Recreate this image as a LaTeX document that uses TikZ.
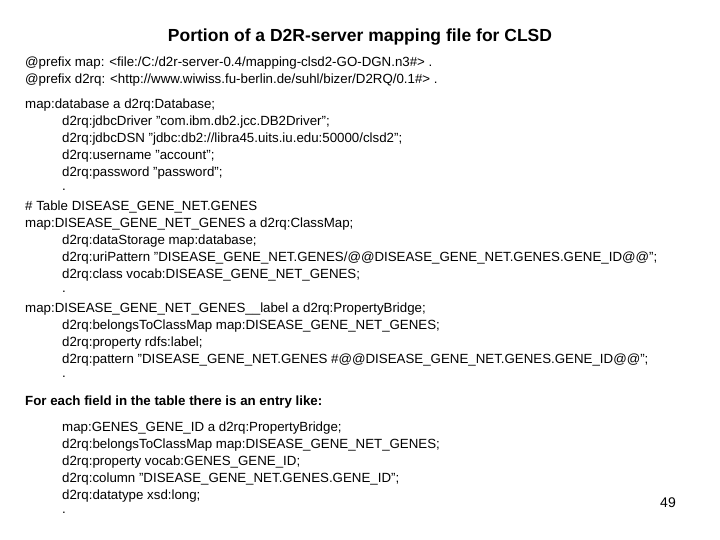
\documentclass[tikz,border=0pt]{standalone}
\usepackage{fontspec}
\setmainfont{Liberation Sans}
\usetikzlibrary{positioning}
\newcommand{\qt}{\char34 }
\tikzset{
  ln/.style={anchor=west,inner sep=0pt,font=\fontsize{13.3}{15}\selectfont},
  hd/.style={inner sep=0pt,font=\fontsize{17.5}{19}\selectfont\bfseries}
}
\begin{document}
\begin{tikzpicture}[x=1pt,y=-1pt]
\useasboundingbox (0,0) rectangle (720,540);
\node[hd] (title) at (360,37) {Portion of a D2R-server mapping file for CLSD};
%prefixes
\node[ln] (p1) at (25,63) {@prefix map: <file:/C:/d2r-server-0.4/mapping-clsd2-GO-DGN.n3\#> .};
\node[ln] (p2) at (25,80) {@prefix d2rq: <http://www.wiwiss.fu-berlin.de/suhl/bizer/D2RQ/0.1\#> .};
%database
\node[ln] (db) at (25,105) {map:database a d2rq:Database;};
\node[ln] (db1) at (62,122) {d2rq:jdbcDriver \qt com.ibm.db2.jcc.DB2Driver\qt;};
\node[ln] (db2) at (62,139) {d2rq:jdbcDSN \qt jdbc:db2://libra45.uits.iu.edu:50000/clsd2\qt;};
\node[ln] (db3) at (62,156) {d2rq:username \qt account\qt;};
\node[ln] (db4) at (62,173) {d2rq:password \qt password\qt;};
\node[ln] (db5) at (62,190) {.};
%class map
\node[ln] (tb) at (25,207) {\# Table DISEASE\_GENE\_NET.GENES};
\node[ln] (cm) at (25,224) {map:DISEASE\_GENE\_NET\_GENES a d2rq:ClassMap;};
\node[ln] (cm1) at (62,241) {d2rq:dataStorage map:database;};
\node[ln] (cm2) at (62,258) {d2rq:uriPattern \qt DISEASE\_GENE\_NET.GENES/@@DISEASE\_GENE\_NET.GENES.GENE\_ID@@\qt;};
\node[ln] (cm3) at (62,275) {d2rq:class vocab:DISEASE\_GENE\_NET\_GENES;};
\node[ln] (cm4) at (62,292) {.};
%label bridge
\node[ln] (lb) at (25,309) {map:DISEASE\_GENE\_NET\_GENES\_\_label a d2rq:PropertyBridge;};
\node[ln] (lb1) at (62,326) {d2rq:belongsToClassMap map:DISEASE\_GENE\_NET\_GENES;};
\node[ln] (lb2) at (62,343) {d2rq:property rdfs:label;};
\node[ln] (lb3) at (62,360) {d2rq:pattern \qt DISEASE\_GENE\_NET.GENES \#@@DISEASE\_GENE\_NET.GENES.GENE\_ID@@\qt;};
\node[ln] (lb4) at (62,377) {.};
%field entry
\node[hd,anchor=west,font=\fontsize{13.3}{15}\selectfont\bfseries] (fe) at (25,402) {For each field in the table there is an entry like:};
\node[ln] (fe1) at (62,428) {map:GENES\_GENE\_ID a d2rq:PropertyBridge;};
\node[ln] (fe2) at (62,445) {d2rq:belongsToClassMap map:DISEASE\_GENE\_NET\_GENES;};
\node[ln] (fe3) at (62,462) {d2rq:property vocab:GENES\_GENE\_ID;};
\node[ln] (fe4) at (62,479) {d2rq:column \qt DISEASE\_GENE\_NET.GENES.GENE\_ID\qt;};
\node[ln] (fe5) at (62,496) {d2rq:datatype xsd:long;};
\node[ln] (fe6) at (62,513) {.};
\node[ln,anchor=center,font=\fontsize{14}{15}\selectfont] (pg) at (668,503) {49};
\end{tikzpicture}
\end{document}
